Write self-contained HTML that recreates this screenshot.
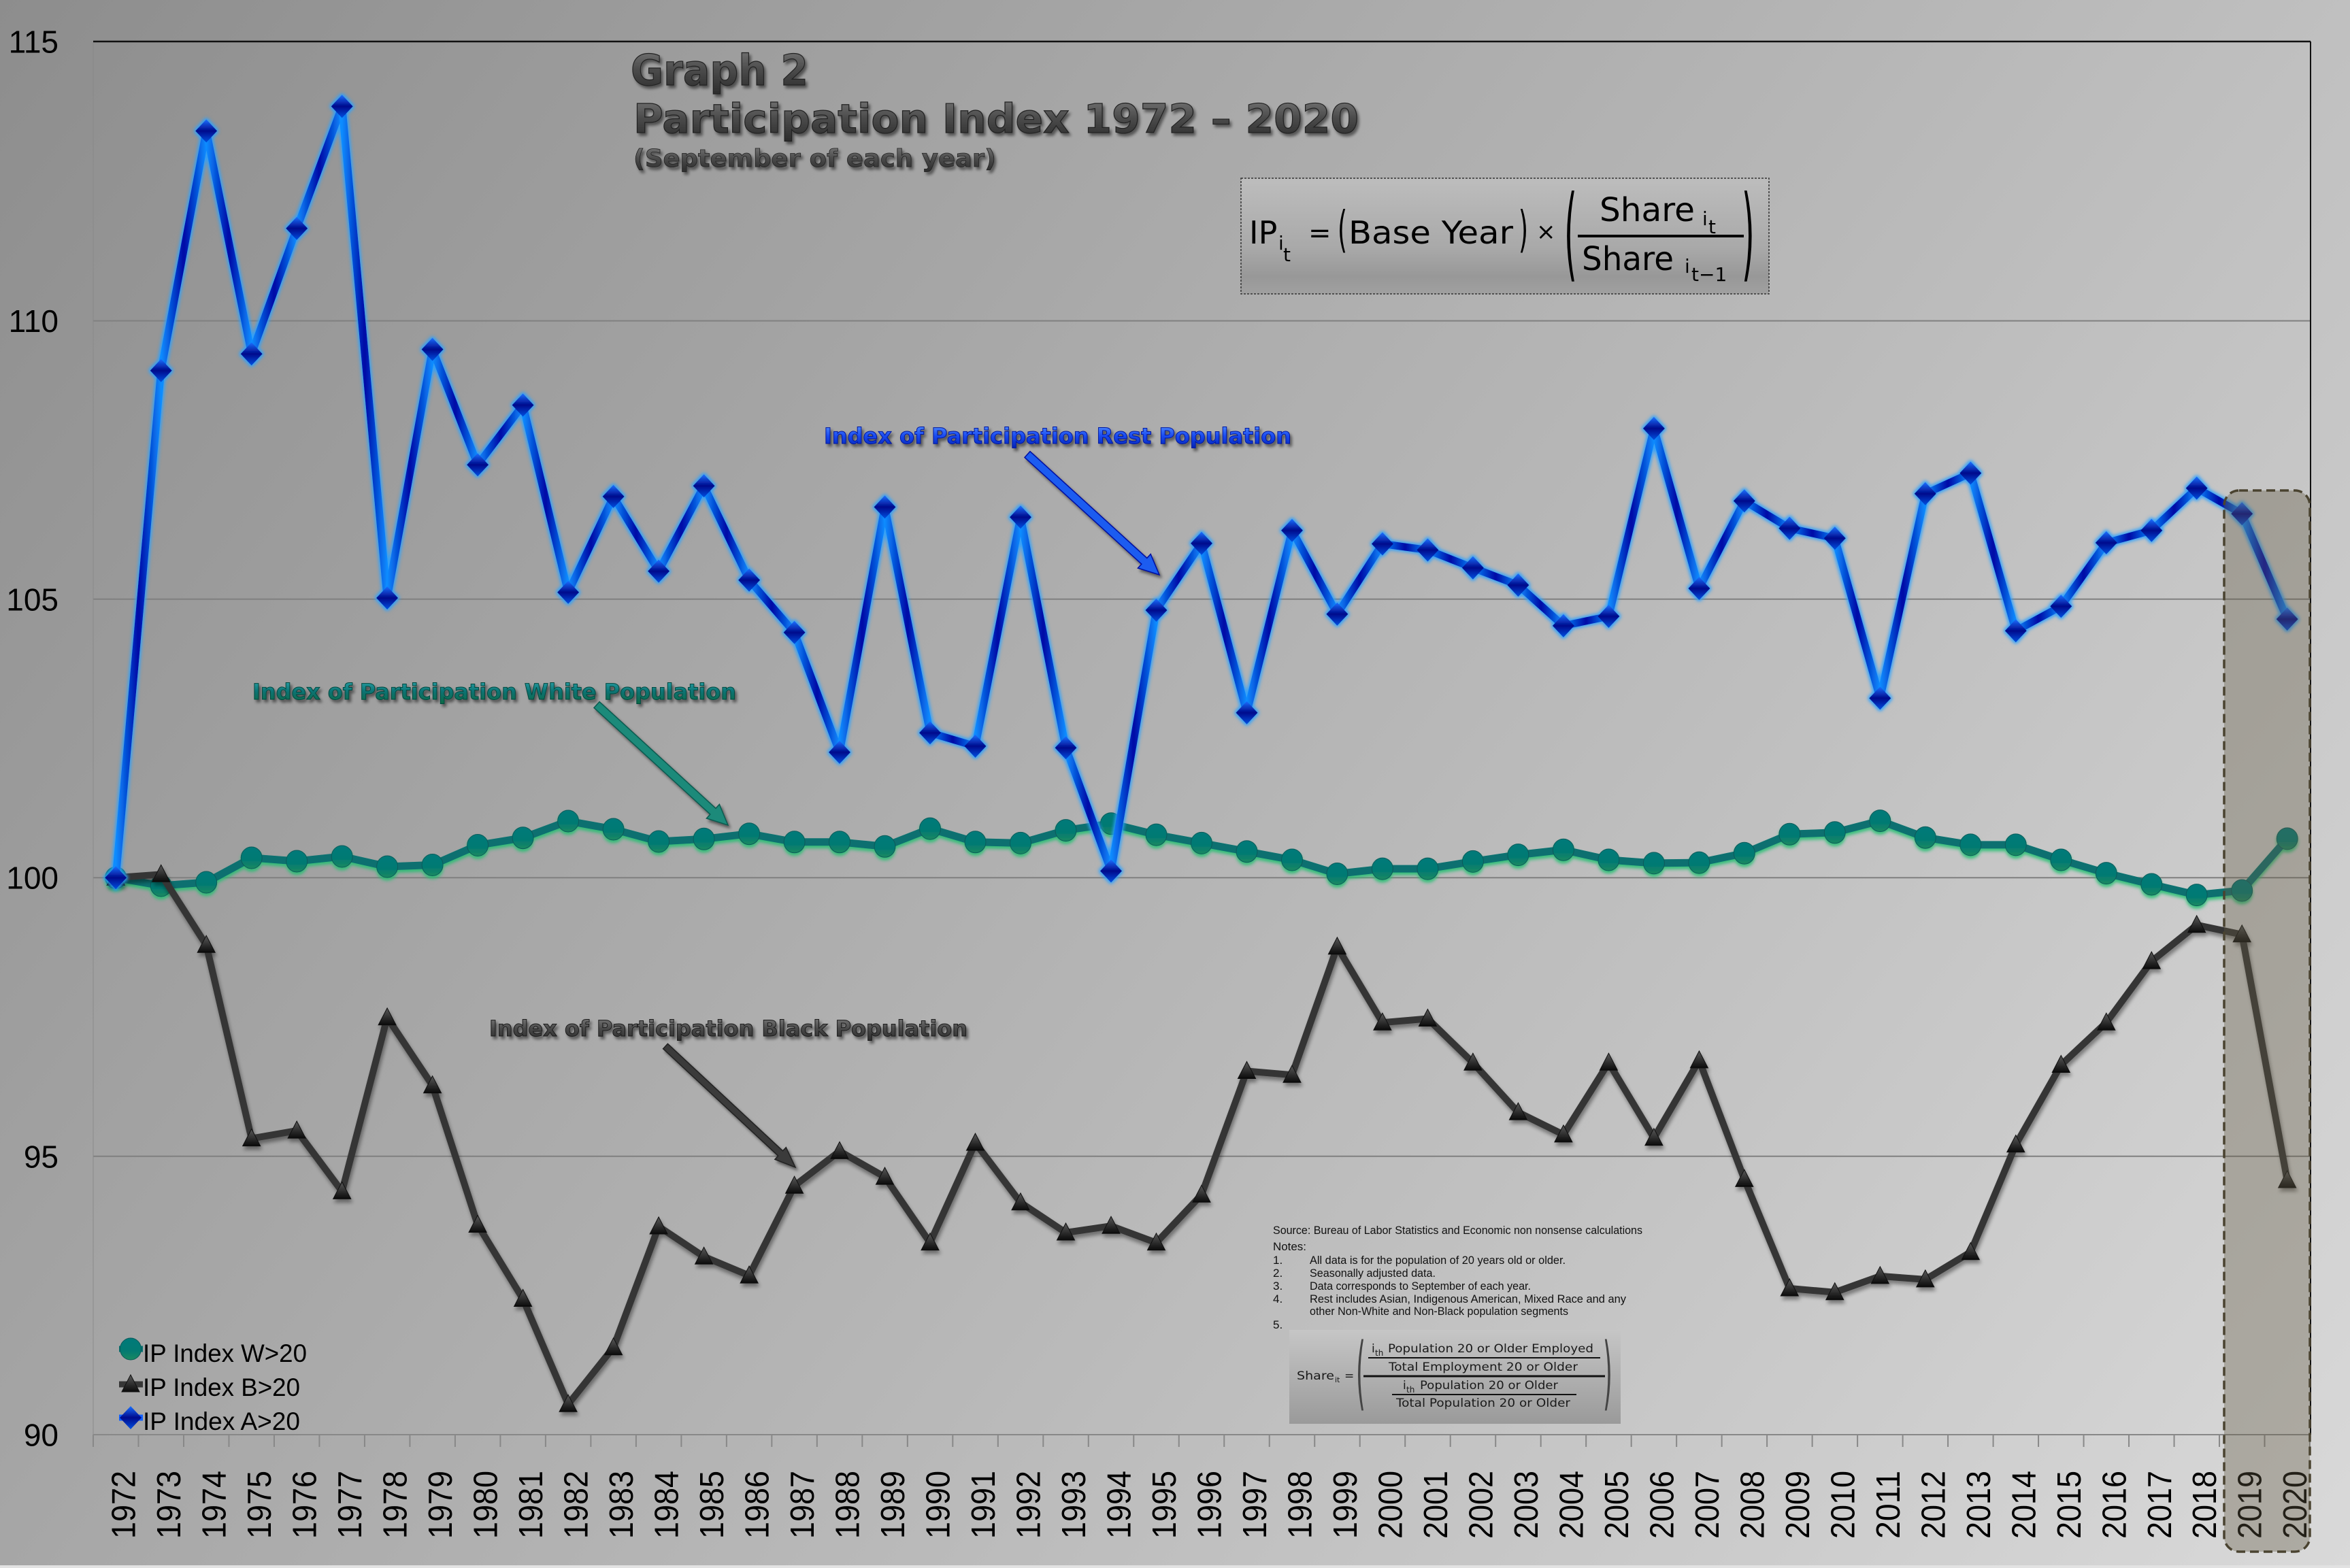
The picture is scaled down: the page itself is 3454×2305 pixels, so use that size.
<!DOCTYPE html>
<html><head><meta charset="utf-8"><style>html,body{margin:0;padding:0;width:3454px;height:2305px;overflow:hidden;background:#aaa}svg{display:block}</style></head><body>
<svg width="3454" height="2305" viewBox="0 0 3454 2305" xmlns="http://www.w3.org/2000/svg">
<defs>
<linearGradient id="bg" gradientUnits="userSpaceOnUse" x1="0" y1="0" x2="3316" y2="2485"><stop offset="0" stop-color="#8d8d8d"/><stop offset="1" stop-color="#d9d9d9"/></linearGradient>
<linearGradient id="segB" x1="0" y1="0" x2="1" y2="0"><stop offset="0" stop-color="#0a8cff"/><stop offset=".5" stop-color="#0008a6"/><stop offset="1" stop-color="#0a8cff"/></linearGradient>
<linearGradient id="diaG" x1="0" y1="0" x2="0" y2="1"><stop offset="0" stop-color="#1a70ff"/><stop offset=".5" stop-color="#000a8c"/><stop offset="1" stop-color="#0050e0"/></linearGradient>
<linearGradient id="cirG" x1="0" y1="0" x2="0" y2="1"><stop offset="0" stop-color="#007a7a"/><stop offset=".6" stop-color="#037a72"/><stop offset="1" stop-color="#1a8a60"/></linearGradient>
<linearGradient id="triG" x1="0" y1="0" x2="0" y2="1"><stop offset="0" stop-color="#5a5a5a"/><stop offset="1" stop-color="#0a0a0a"/></linearGradient>
<linearGradient id="fbox" x1="0" y1="0" x2="0" y2="1"><stop offset="0" stop-color="#bdbdbd"/><stop offset=".6" stop-color="#a9a9a9"/><stop offset=".85" stop-color="#989898"/><stop offset="1" stop-color="#a0a0a0"/></linearGradient>
<linearGradient id="sbox" x1="0" y1="0" x2="0" y2="1"><stop offset="0" stop-color="#c6c6c6"/><stop offset="1" stop-color="#9a9a9a"/></linearGradient>
<linearGradient id="tG" x1="0" y1="0" x2="0" y2="1"><stop offset="0" stop-color="#7a7a7a"/><stop offset=".5" stop-color="#4a4a4a"/><stop offset="1" stop-color="#2a2a2a"/></linearGradient>
<linearGradient id="rG" x1="0" y1="0" x2="0" y2="1"><stop offset="0" stop-color="#5a9aff"/><stop offset=".5" stop-color="#1a4af0"/><stop offset="1" stop-color="#0020b0"/></linearGradient>
<linearGradient id="wG" x1="0" y1="0" x2="0" y2="1"><stop offset="0" stop-color="#30a8b0"/><stop offset=".5" stop-color="#0a7272"/><stop offset="1" stop-color="#0a6a40"/></linearGradient>
<linearGradient id="kG" x1="0" y1="0" x2="0" y2="1"><stop offset="0" stop-color="#808080"/><stop offset=".5" stop-color="#4a4a4a"/><stop offset="1" stop-color="#2a2a2a"/></linearGradient>
<filter id="ts" x="-5%" y="-30%" width="110%" height="170%"><feGaussianBlur in="SourceAlpha" stdDeviation="2"/><feOffset dx="3" dy="4"/><feComponentTransfer><feFuncA type="linear" slope="0.5"/></feComponentTransfer><feMerge><feMergeNode/><feMergeNode in="SourceGraphic"/></feMerge></filter>
<filter id="glowB" x="-3%" y="-5%" width="106%" height="110%"><feMorphology in="SourceAlpha" operator="dilate" radius="2" result="d"/><feGaussianBlur in="d" stdDeviation="2.5" result="b"/><feFlood flood-color="#2aa0ff" flood-opacity="0.9"/><feComposite in2="b" operator="in" result="g"/><feMerge><feMergeNode in="g"/><feMergeNode in="SourceGraphic"/></feMerge></filter>
<filter id="glowG" x="-3%" y="-20%" width="106%" height="140%"><feGaussianBlur in="SourceAlpha" stdDeviation="2.5" result="b"/><feOffset in="b" dy="4" result="o"/><feFlood flood-color="#20c070" flood-opacity="0.85"/><feComposite in2="o" operator="in" result="g"/><feMerge><feMergeNode in="g"/><feMergeNode in="SourceGraphic"/></feMerge></filter>
<filter id="shK" x="-3%" y="-5%" width="106%" height="110%"><feGaussianBlur in="SourceAlpha" stdDeviation="3"/><feOffset dx="2" dy="5"/><feComponentTransfer><feFuncA type="linear" slope="0.4"/></feComponentTransfer><feMerge><feMergeNode/><feMergeNode in="SourceGraphic"/></feMerge></filter>
<pattern id="tk" x="136" y="0" width="66.49" height="18" patternUnits="userSpaceOnUse"><rect width="2" height="18" fill="#888"/></pattern>
<g id="d"><polygon points="0,-17 16,0 0,17 -16,0" fill="url(#diaG)"/></g>
<g id="c"><ellipse rx="15.5" ry="16" fill="url(#cirG)" stroke="#0a5a5a" stroke-width="1"/></g>
<g id="t"><polygon points="0,-14 13,11 -13,11" fill="url(#triG)" stroke="#111" stroke-width="1"/></g>
</defs>

<rect width="3454" height="2305" fill="url(#bg)"/>
<rect x="0" y="2301" width="3454" height="4" fill="#e2e2e2"/>

<!-- grid -->
<g stroke="#808080" stroke-width="2">
<line x1="137" y1="471.6" x2="3395" y2="471.6"/>
<line x1="137" y1="880.8" x2="3395" y2="880.8"/>
<line x1="137" y1="1290.2" x2="3395" y2="1290.2"/>
<line x1="137" y1="1699.8" x2="3395" y2="1699.8"/>
</g>
<line x1="137" y1="61" x2="137" y2="2109" stroke="#888" stroke-opacity=".6" stroke-width="1.5"/>
<line x1="137" y1="2109" x2="3396" y2="2109" stroke="#888" stroke-width="2"/>
<rect x="136" y="2109" width="3262" height="18" fill="url(#tk)"/>
<line x1="137" y1="61" x2="3396" y2="61" stroke="#111" stroke-width="2.5"/>
<line x1="3396" y1="61" x2="3396" y2="2109" stroke="#111" stroke-width="2"/>

<!-- y labels -->
<g font-family="Liberation Sans, Arial, sans-serif" font-size="46" fill="#000" text-anchor="end">
<text x="86" y="77.5">115</text>
<text x="86" y="488">110</text>
<text x="86" y="897.3">105</text>
<text x="86" y="1306.7">100</text>
<text x="86" y="1716.3">95</text>
<text x="86" y="2125.5">90</text>
</g>

<!-- x labels -->
<g font-family="Liberation Sans, Arial, sans-serif" font-size="49" fill="#000">
<text transform="translate(198.7,2262) rotate(-90)" textLength="100" lengthAdjust="spacingAndGlyphs">1972</text>
<text transform="translate(265.2,2262) rotate(-90)" textLength="100" lengthAdjust="spacingAndGlyphs">1973</text>
<text transform="translate(331.7,2262) rotate(-90)" textLength="100" lengthAdjust="spacingAndGlyphs">1974</text>
<text transform="translate(398.2,2262) rotate(-90)" textLength="100" lengthAdjust="spacingAndGlyphs">1975</text>
<text transform="translate(464.7,2262) rotate(-90)" textLength="100" lengthAdjust="spacingAndGlyphs">1976</text>
<text transform="translate(531.2,2262) rotate(-90)" textLength="100" lengthAdjust="spacingAndGlyphs">1977</text>
<text transform="translate(597.6,2262) rotate(-90)" textLength="100" lengthAdjust="spacingAndGlyphs">1978</text>
<text transform="translate(664.1,2262) rotate(-90)" textLength="100" lengthAdjust="spacingAndGlyphs">1979</text>
<text transform="translate(730.6,2262) rotate(-90)" textLength="100" lengthAdjust="spacingAndGlyphs">1980</text>
<text transform="translate(797.1,2262) rotate(-90)" textLength="100" lengthAdjust="spacingAndGlyphs">1981</text>
<text transform="translate(863.6,2262) rotate(-90)" textLength="100" lengthAdjust="spacingAndGlyphs">1982</text>
<text transform="translate(930.1,2262) rotate(-90)" textLength="100" lengthAdjust="spacingAndGlyphs">1983</text>
<text transform="translate(996.6,2262) rotate(-90)" textLength="100" lengthAdjust="spacingAndGlyphs">1984</text>
<text transform="translate(1063.1,2262) rotate(-90)" textLength="100" lengthAdjust="spacingAndGlyphs">1985</text>
<text transform="translate(1129.6,2262) rotate(-90)" textLength="100" lengthAdjust="spacingAndGlyphs">1986</text>
<text transform="translate(1196.1,2262) rotate(-90)" textLength="100" lengthAdjust="spacingAndGlyphs">1987</text>
<text transform="translate(1262.5,2262) rotate(-90)" textLength="100" lengthAdjust="spacingAndGlyphs">1988</text>
<text transform="translate(1329,2262) rotate(-90)" textLength="100" lengthAdjust="spacingAndGlyphs">1989</text>
<text transform="translate(1395.5,2262) rotate(-90)" textLength="100" lengthAdjust="spacingAndGlyphs">1990</text>
<text transform="translate(1462,2262) rotate(-90)" textLength="100" lengthAdjust="spacingAndGlyphs">1991</text>
<text transform="translate(1528.5,2262) rotate(-90)" textLength="100" lengthAdjust="spacingAndGlyphs">1992</text>
<text transform="translate(1595,2262) rotate(-90)" textLength="100" lengthAdjust="spacingAndGlyphs">1993</text>
<text transform="translate(1661.5,2262) rotate(-90)" textLength="100" lengthAdjust="spacingAndGlyphs">1994</text>
<text transform="translate(1728,2262) rotate(-90)" textLength="100" lengthAdjust="spacingAndGlyphs">1995</text>
<text transform="translate(1794.5,2262) rotate(-90)" textLength="100" lengthAdjust="spacingAndGlyphs">1996</text>
<text transform="translate(1861,2262) rotate(-90)" textLength="100" lengthAdjust="spacingAndGlyphs">1997</text>
<text transform="translate(1927.5,2262) rotate(-90)" textLength="100" lengthAdjust="spacingAndGlyphs">1998</text>
<text transform="translate(1993.9,2262) rotate(-90)" textLength="100" lengthAdjust="spacingAndGlyphs">1999</text>
<text transform="translate(2060.4,2262) rotate(-90)" textLength="100" lengthAdjust="spacingAndGlyphs">2000</text>
<text transform="translate(2126.9,2262) rotate(-90)" textLength="100" lengthAdjust="spacingAndGlyphs">2001</text>
<text transform="translate(2193.4,2262) rotate(-90)" textLength="100" lengthAdjust="spacingAndGlyphs">2002</text>
<text transform="translate(2259.9,2262) rotate(-90)" textLength="100" lengthAdjust="spacingAndGlyphs">2003</text>
<text transform="translate(2326.4,2262) rotate(-90)" textLength="100" lengthAdjust="spacingAndGlyphs">2004</text>
<text transform="translate(2392.9,2262) rotate(-90)" textLength="100" lengthAdjust="spacingAndGlyphs">2005</text>
<text transform="translate(2459.4,2262) rotate(-90)" textLength="100" lengthAdjust="spacingAndGlyphs">2006</text>
<text transform="translate(2525.9,2262) rotate(-90)" textLength="100" lengthAdjust="spacingAndGlyphs">2007</text>
<text transform="translate(2592.3,2262) rotate(-90)" textLength="100" lengthAdjust="spacingAndGlyphs">2008</text>
<text transform="translate(2658.8,2262) rotate(-90)" textLength="100" lengthAdjust="spacingAndGlyphs">2009</text>
<text transform="translate(2725.3,2262) rotate(-90)" textLength="100" lengthAdjust="spacingAndGlyphs">2010</text>
<text transform="translate(2791.8,2262) rotate(-90)" textLength="100" lengthAdjust="spacingAndGlyphs">2011</text>
<text transform="translate(2858.3,2262) rotate(-90)" textLength="100" lengthAdjust="spacingAndGlyphs">2012</text>
<text transform="translate(2924.8,2262) rotate(-90)" textLength="100" lengthAdjust="spacingAndGlyphs">2013</text>
<text transform="translate(2991.3,2262) rotate(-90)" textLength="100" lengthAdjust="spacingAndGlyphs">2014</text>
<text transform="translate(3057.8,2262) rotate(-90)" textLength="100" lengthAdjust="spacingAndGlyphs">2015</text>
<text transform="translate(3124.3,2262) rotate(-90)" textLength="100" lengthAdjust="spacingAndGlyphs">2016</text>
<text transform="translate(3190.8,2262) rotate(-90)" textLength="100" lengthAdjust="spacingAndGlyphs">2017</text>
<text transform="translate(3257.2,2262) rotate(-90)" textLength="100" lengthAdjust="spacingAndGlyphs">2018</text>
<text transform="translate(3323.7,2262) rotate(-90)" textLength="100" lengthAdjust="spacingAndGlyphs">2019</text>
<text transform="translate(3390.2,2262) rotate(-90)" textLength="100" lengthAdjust="spacingAndGlyphs">2020</text>
</g>

<!-- titles -->
<g font-family="DejaVu Sans, Verdana, sans-serif" font-weight="bold" fill="url(#tG)" stroke="#222" stroke-width="1.2" filter="url(#ts)">
<text x="927" y="125" font-size="62" textLength="261" lengthAdjust="spacingAndGlyphs">Graph 2</text>
<text x="931" y="195" font-size="59" textLength="1066" lengthAdjust="spacingAndGlyphs">Participation Index 1972 – 2020</text>
<text x="931" y="245" font-size="36" textLength="533" lengthAdjust="spacingAndGlyphs" stroke-width="0.8">(September of each year)</text>
</g>

<!-- formula box -->
<rect x="1824" y="262" width="776" height="170" fill="url(#fbox)" stroke="#333" stroke-width="1.5" stroke-dasharray="3 2"/>
<g font-family="DejaVu Sans, Verdana, sans-serif" fill="#000">
<text x="1836" y="358" font-size="46">IP</text>
<text x="1879" y="367" font-size="28">i</text>
<text x="1886" y="384" font-size="28">t</text>
<text x="1923" y="356" font-size="40">=</text>
<text transform="translate(1966,362) scale(0.5,1)" font-size="72">(</text>
<text x="1982" y="358" font-size="46" textLength="242" lengthAdjust="spacingAndGlyphs">Base Year</text>
<text transform="translate(2232,362) scale(0.5,1)" font-size="72">)</text>
<text x="2258" y="352" font-size="34">×</text>
<text transform="translate(2299,394) scale(0.32,1)" font-size="150">(</text>
<text transform="translate(2560,394) scale(0.32,1)" font-size="150">)</text>
<text x="2351" y="325" font-size="48" textLength="140" lengthAdjust="spacingAndGlyphs">Share</text>
<text x="2502" y="331" font-size="28">i</text>
<text x="2511" y="343" font-size="28">t</text>
<rect x="2319" y="345" width="244" height="4" fill="#000"/>
<text x="2325" y="397" font-size="48" textLength="135" lengthAdjust="spacingAndGlyphs">Share</text>
<text x="2476" y="401" font-size="28">i</text>
<text x="2486" y="413" font-size="28">t−1</text>
</g>

<!-- annotations -->
<g font-family="DejaVu Sans, Verdana, sans-serif" font-weight="bold" font-size="32" filter="url(#ts)">
<text x="1211" y="652" fill="url(#rG)" stroke="#0018a0" stroke-width="1" textLength="687" lengthAdjust="spacingAndGlyphs">Index of Participation Rest Population</text>
<text x="371" y="1028" fill="url(#wG)" stroke="#064a40" stroke-width="1" textLength="711" lengthAdjust="spacingAndGlyphs">Index of Participation White Population</text>
<text x="719" y="1523" fill="url(#kG)" stroke="#1a1a1a" stroke-width="1" textLength="703" lengthAdjust="spacingAndGlyphs">Index of Participation Black Population</text>
</g>
<g filter="url(#ts)">
<polygon points="1506.0,672.4 1677.8,829.2 1672.4,835.1 1704,845 1691.2,814.5 1685.8,820.4 1514.0,663.6" fill="#1a5cf0" stroke="#0010a0" stroke-width="1.5"/>
<polygon points="873.0,1040.4 1043.8,1197.1 1038.4,1203.0 1070,1213 1057.4,1182.4 1052.0,1188.3 881.1,1031.6" fill="#1a8a7a" stroke="#0a5a50" stroke-width="1.5"/>
<polygon points="974.6,1541.7 1143.7,1699.2 1138.9,1704.3 1169,1716 1155.3,1686.7 1150.5,1691.8 981.4,1534.3" fill="#3a3a3a" stroke="#222" stroke-width="1.5"/>
</g>

<!-- notes -->
<g font-family="Liberation Sans, Arial, sans-serif" font-size="17" fill="#111">
<text x="1871" y="1814" textLength="543" lengthAdjust="spacingAndGlyphs">Source: Bureau of Labor Statistics and Economic non nonsense calculations</text>
<text x="1871" y="1838" textLength="49" lengthAdjust="spacingAndGlyphs">Notes:</text>
<text x="1871" y="1858">1.</text>
<text x="1925" y="1858" textLength="376" lengthAdjust="spacingAndGlyphs">All data is for the population of 20 years old or older.</text>
<text x="1871" y="1877">2.</text>
<text x="1925" y="1877" textLength="185" lengthAdjust="spacingAndGlyphs">Seasonally adjusted data.</text>
<text x="1871" y="1896">3.</text>
<text x="1925" y="1896" textLength="325" lengthAdjust="spacingAndGlyphs">Data corresponds to September of each year.</text>
<text x="1871" y="1915">4.</text>
<text x="1925" y="1915" textLength="465" lengthAdjust="spacingAndGlyphs">Rest includes Asian, Indigenous American, Mixed Race and any</text>
<text x="1925" y="1933" textLength="380" lengthAdjust="spacingAndGlyphs">other Non-White and Non-Black population segments</text>
<text x="1871" y="1953">5.</text>
</g>
<rect x="1895" y="1955" width="487" height="138" fill="url(#sbox)"/>
<g font-family="DejaVu Sans, Verdana, sans-serif" font-size="17" fill="#1a1a1a">
<text x="1906" y="2028" textLength="55" lengthAdjust="spacingAndGlyphs">Share</text>
<text x="1962" y="2032" font-size="11">it</text>
<text x="1976" y="2028">=</text>
<text transform="translate(1993,2058) scale(0.3,1)" font-size="118" fill="#444">(</text>
<text transform="translate(2356,2058) scale(0.3,1)" font-size="118" fill="#444">)</text>
<text x="2016" y="1988">i</text>
<text x="2021" y="1993" font-size="12">th</text>
<text x="2040" y="1988" textLength="302" lengthAdjust="spacingAndGlyphs">Population 20 or Older Employed</text>
<rect x="2011" y="1995" width="341" height="2" fill="#111"/>
<text x="2041" y="2015" textLength="278" lengthAdjust="spacingAndGlyphs">Total Employment 20 or Older</text>
<rect x="2004" y="2021.5" width="355" height="3" fill="#111"/>
<text x="2062" y="2042">i</text>
<text x="2067" y="2047" font-size="12">th</text>
<text x="2087" y="2042" textLength="203" lengthAdjust="spacingAndGlyphs">Population 20 or Older</text>
<rect x="2046" y="2049" width="271" height="2" fill="#111"/>
<text x="2052" y="2068" textLength="256" lengthAdjust="spacingAndGlyphs">Total Population 20 or Older</text>
</g>

<!-- W series -->
<g filter="url(#glowG)">
<polyline fill="none" stroke="#087070" stroke-width="11" stroke-linejoin="round" stroke-linecap="round" points="170.2,1290.2 236.7,1302 303.2,1297 369.7,1261 436.2,1266 502.7,1259 569.1,1274 635.6,1271.5 702.1,1242.5 768.6,1231.7 835.1,1207 901.6,1219 968.1,1237 1034.6,1233.3 1101.1,1225.7 1167.6,1237.8 1234,1237.8 1300.5,1244.3 1367,1218.1 1433.5,1237.8 1500,1239.4 1566.5,1220.6 1633,1210.7 1699.5,1227.1 1766,1239.4 1832.5,1251.7 1899,1264 1965.4,1284.5 2031.9,1277.1 2098.4,1277.1 2164.9,1266.4 2231.4,1256.6 2297.9,1249.2 2364.4,1264 2430.9,1268.9 2497.4,1268.1 2563.8,1254.2 2630.3,1226.3 2696.8,1223.8 2763.3,1206.6 2829.8,1231.2 2896.3,1241.9 2962.8,1241.9 3029.3,1264 3095.8,1283.6 3162.3,1300 3228.7,1315.6 3295.2,1309 3361.7,1232.9"/>
<use href="#c" x="170.2" y="1290.2"/><use href="#c" x="236.7" y="1302"/><use href="#c" x="303.2" y="1297"/><use href="#c" x="369.7" y="1261"/><use href="#c" x="436.2" y="1266"/><use href="#c" x="502.7" y="1259"/><use href="#c" x="569.1" y="1274"/><use href="#c" x="635.6" y="1271.5"/><use href="#c" x="702.1" y="1242.5"/><use href="#c" x="768.6" y="1231.7"/><use href="#c" x="835.1" y="1207"/><use href="#c" x="901.6" y="1219"/><use href="#c" x="968.1" y="1237"/><use href="#c" x="1034.6" y="1233.3"/><use href="#c" x="1101.1" y="1225.7"/><use href="#c" x="1167.6" y="1237.8"/><use href="#c" x="1234" y="1237.8"/><use href="#c" x="1300.5" y="1244.3"/><use href="#c" x="1367" y="1218.1"/><use href="#c" x="1433.5" y="1237.8"/><use href="#c" x="1500" y="1239.4"/><use href="#c" x="1566.5" y="1220.6"/><use href="#c" x="1633" y="1210.7"/><use href="#c" x="1699.5" y="1227.1"/><use href="#c" x="1766" y="1239.4"/><use href="#c" x="1832.5" y="1251.7"/><use href="#c" x="1899" y="1264"/><use href="#c" x="1965.4" y="1284.5"/><use href="#c" x="2031.9" y="1277.1"/><use href="#c" x="2098.4" y="1277.1"/><use href="#c" x="2164.9" y="1266.4"/><use href="#c" x="2231.4" y="1256.6"/><use href="#c" x="2297.9" y="1249.2"/><use href="#c" x="2364.4" y="1264"/><use href="#c" x="2430.9" y="1268.9"/><use href="#c" x="2497.4" y="1268.1"/><use href="#c" x="2563.8" y="1254.2"/><use href="#c" x="2630.3" y="1226.3"/><use href="#c" x="2696.8" y="1223.8"/><use href="#c" x="2763.3" y="1206.6"/><use href="#c" x="2829.8" y="1231.2"/><use href="#c" x="2896.3" y="1241.9"/><use href="#c" x="2962.8" y="1241.9"/><use href="#c" x="3029.3" y="1264"/><use href="#c" x="3095.8" y="1283.6"/><use href="#c" x="3162.3" y="1300"/><use href="#c" x="3228.7" y="1315.6"/><use href="#c" x="3295.2" y="1309"/><use href="#c" x="3361.7" y="1232.9"/>
</g>

<!-- B series -->
<g filter="url(#shK)">
<polyline fill="none" stroke="#363636" stroke-width="10" stroke-linejoin="round" stroke-linecap="round" points="170.2,1290.2 236.7,1285.3 303.2,1389.3 369.7,1673.6 436.2,1662.1 502.7,1751.4 569.1,1495.8 635.6,1595.7 702.1,1800.5 768.6,1909.5 835.1,2064.3 901.6,1980.8 968.1,1803 1034.6,1847.3 1101.1,1875.1 1167.6,1743.2 1234,1692.4 1300.5,1730.1 1367,1826.8 1433.5,1680.1 1500,1767.8 1566.5,1812 1633,1802.2 1699.5,1826.8 1766,1756.3 1832.5,1574.5 1899,1580.2 1965.4,1391.8 2031.9,1503.2 2098.4,1497.5 2164.9,1562.2 2231.4,1635.1 2297.9,1667.9 2364.4,1562.2 2430.9,1672.8 2497.4,1558.9 2563.8,1733.4 2630.3,1894 2696.8,1899.7 2763.3,1875.9 2829.8,1880.9 2896.3,1840.7 2962.8,1682.6 3029.3,1565.5 3095.8,1503.2 3162.3,1413.1 3228.7,1359.8 3295.2,1373.8 3361.7,1735"/>
<use href="#t" x="170.2" y="1290.2"/><use href="#t" x="236.7" y="1285.3"/><use href="#t" x="303.2" y="1389.3"/><use href="#t" x="369.7" y="1673.6"/><use href="#t" x="436.2" y="1662.1"/><use href="#t" x="502.7" y="1751.4"/><use href="#t" x="569.1" y="1495.8"/><use href="#t" x="635.6" y="1595.7"/><use href="#t" x="702.1" y="1800.5"/><use href="#t" x="768.6" y="1909.5"/><use href="#t" x="835.1" y="2064.3"/><use href="#t" x="901.6" y="1980.8"/><use href="#t" x="968.1" y="1803"/><use href="#t" x="1034.6" y="1847.3"/><use href="#t" x="1101.1" y="1875.1"/><use href="#t" x="1167.6" y="1743.2"/><use href="#t" x="1234" y="1692.4"/><use href="#t" x="1300.5" y="1730.1"/><use href="#t" x="1367" y="1826.8"/><use href="#t" x="1433.5" y="1680.1"/><use href="#t" x="1500" y="1767.8"/><use href="#t" x="1566.5" y="1812"/><use href="#t" x="1633" y="1802.2"/><use href="#t" x="1699.5" y="1826.8"/><use href="#t" x="1766" y="1756.3"/><use href="#t" x="1832.5" y="1574.5"/><use href="#t" x="1899" y="1580.2"/><use href="#t" x="1965.4" y="1391.8"/><use href="#t" x="2031.9" y="1503.2"/><use href="#t" x="2098.4" y="1497.5"/><use href="#t" x="2164.9" y="1562.2"/><use href="#t" x="2231.4" y="1635.1"/><use href="#t" x="2297.9" y="1667.9"/><use href="#t" x="2364.4" y="1562.2"/><use href="#t" x="2430.9" y="1672.8"/><use href="#t" x="2497.4" y="1558.9"/><use href="#t" x="2563.8" y="1733.4"/><use href="#t" x="2630.3" y="1894"/><use href="#t" x="2696.8" y="1899.7"/><use href="#t" x="2763.3" y="1875.9"/><use href="#t" x="2829.8" y="1880.9"/><use href="#t" x="2896.3" y="1840.7"/><use href="#t" x="2962.8" y="1682.6"/><use href="#t" x="3029.3" y="1565.5"/><use href="#t" x="3095.8" y="1503.2"/><use href="#t" x="3162.3" y="1413.1"/><use href="#t" x="3228.7" y="1359.8"/><use href="#t" x="3295.2" y="1373.8"/><use href="#t" x="3361.7" y="1735"/>
</g>

<!-- A series -->
<g filter="url(#glowB)">
<g fill="none" stroke="url(#segB)" stroke-width="11" stroke-linecap="round">
<path d="M170.2 1290.2L236.7 544.7"/><path d="M236.7 544.7L303.2 192.5"/><path d="M303.2 192.5L369.7 520.2"/><path d="M369.7 520.2L436.2 335.8"/><path d="M436.2 335.8L502.7 156.4"/><path d="M502.7 156.4L569.1 879"/><path d="M569.1 879L635.6 513.6"/><path d="M635.6 513.6L702.1 683.2"/><path d="M702.1 683.2L768.6 595.5"/><path d="M768.6 595.5L835.1 870.8"/><path d="M835.1 870.8L901.6 729.9"/><path d="M901.6 729.9L968.1 839.6"/><path d="M968.1 839.6L1034.6 714.3"/><path d="M1034.6 714.3L1101.1 852.7"/><path d="M1101.1 852.7L1167.6 929.8"/><path d="M1167.6 929.8L1234 1105.9"/><path d="M1234 1105.9L1300.5 745.4"/><path d="M1300.5 745.4L1367 1077.2"/><path d="M1367 1077.2L1433.5 1096.9"/><path d="M1433.5 1096.9L1500 760.2"/><path d="M1500 760.2L1566.5 1099.3"/><path d="M1566.5 1099.3L1633 1280.4"/><path d="M1633 1280.4L1699.5 897"/><path d="M1699.5 897L1766 798.7"/><path d="M1766 798.7L1832.5 1047.7"/><path d="M1832.5 1047.7L1899 779.8"/><path d="M1899 779.8L1965.4 902.7"/><path d="M1965.4 902.7L2031.9 799.5"/><path d="M2031.9 799.5L2098.4 808.5"/><path d="M2098.4 808.5L2164.9 834.7"/><path d="M2164.9 834.7L2231.4 860.1"/><path d="M2231.4 860.1L2297.9 919.9"/><path d="M2297.9 919.9L2364.4 906"/><path d="M2364.4 906L2430.9 629.9"/><path d="M2430.9 629.9L2497.4 865"/><path d="M2497.4 865L2563.8 736.4"/><path d="M2563.8 736.4L2630.3 776.6"/><path d="M2630.3 776.6L2696.8 791.3"/><path d="M2696.8 791.3L2763.3 1026.4"/><path d="M2763.3 1026.4L2829.8 725.8"/><path d="M2829.8 725.8L2896.3 695.5"/><path d="M2896.3 695.5L2962.8 927.3"/><path d="M2962.8 927.3L3029.3 891.3"/><path d="M3029.3 891.3L3095.8 797.9"/><path d="M3095.8 797.9L3162.3 779.8"/><path d="M3162.3 779.8L3228.7 717.6"/><path d="M3228.7 717.6L3295.2 755.3"/><path d="M3295.2 755.3L3361.7 910.1"/>
</g>
<use href="#d" x="170.2" y="1290.2"/><use href="#d" x="236.7" y="544.7"/><use href="#d" x="303.2" y="192.5"/><use href="#d" x="369.7" y="520.2"/><use href="#d" x="436.2" y="335.8"/><use href="#d" x="502.7" y="156.4"/><use href="#d" x="569.1" y="879"/><use href="#d" x="635.6" y="513.6"/><use href="#d" x="702.1" y="683.2"/><use href="#d" x="768.6" y="595.5"/><use href="#d" x="835.1" y="870.8"/><use href="#d" x="901.6" y="729.9"/><use href="#d" x="968.1" y="839.6"/><use href="#d" x="1034.6" y="714.3"/><use href="#d" x="1101.1" y="852.7"/><use href="#d" x="1167.6" y="929.8"/><use href="#d" x="1234" y="1105.9"/><use href="#d" x="1300.5" y="745.4"/><use href="#d" x="1367" y="1077.2"/><use href="#d" x="1433.5" y="1096.9"/><use href="#d" x="1500" y="760.2"/><use href="#d" x="1566.5" y="1099.3"/><use href="#d" x="1633" y="1280.4"/><use href="#d" x="1699.5" y="897"/><use href="#d" x="1766" y="798.7"/><use href="#d" x="1832.5" y="1047.7"/><use href="#d" x="1899" y="779.8"/><use href="#d" x="1965.4" y="902.7"/><use href="#d" x="2031.9" y="799.5"/><use href="#d" x="2098.4" y="808.5"/><use href="#d" x="2164.9" y="834.7"/><use href="#d" x="2231.4" y="860.1"/><use href="#d" x="2297.9" y="919.9"/><use href="#d" x="2364.4" y="906"/><use href="#d" x="2430.9" y="629.9"/><use href="#d" x="2497.4" y="865"/><use href="#d" x="2563.8" y="736.4"/><use href="#d" x="2630.3" y="776.6"/><use href="#d" x="2696.8" y="791.3"/><use href="#d" x="2763.3" y="1026.4"/><use href="#d" x="2829.8" y="725.8"/><use href="#d" x="2896.3" y="695.5"/><use href="#d" x="2962.8" y="927.3"/><use href="#d" x="3029.3" y="891.3"/><use href="#d" x="3095.8" y="797.9"/><use href="#d" x="3162.3" y="779.8"/><use href="#d" x="3228.7" y="717.6"/><use href="#d" x="3295.2" y="755.3"/><use href="#d" x="3361.7" y="910.1"/>
</g>

<!-- highlighted 2019-2020 region -->
<rect x="3269" y="721" width="126" height="1560" rx="22" fill="rgb(97,90,66)" fill-opacity="0.36" stroke="#4a4330" stroke-width="3.5" stroke-dasharray="13 7"/>

<!-- legend -->
<line x1="175" y1="1983" x2="210" y2="1983" stroke="#087070" stroke-width="9"/>
<use href="#c" x="192" y="1983"/>
<line x1="175" y1="2035" x2="210" y2="2035" stroke="#363636" stroke-width="9"/>
<use href="#t" x="192" y="2035"/>
<line x1="175" y1="2084" x2="210" y2="2084" stroke="#1060ff" stroke-width="9"/>
<use href="#d" x="192" y="2084"/>
<g font-family="Liberation Sans, Arial, sans-serif" font-size="37" fill="#000">
<text x="210" y="2002" textLength="241" lengthAdjust="spacingAndGlyphs">IP Index W&gt;20</text>
<text x="210" y="2052" textLength="231" lengthAdjust="spacingAndGlyphs">IP Index B&gt;20</text>
<text x="210" y="2102" textLength="231" lengthAdjust="spacingAndGlyphs">IP Index A&gt;20</text>
</g>
</svg>
</body></html>
